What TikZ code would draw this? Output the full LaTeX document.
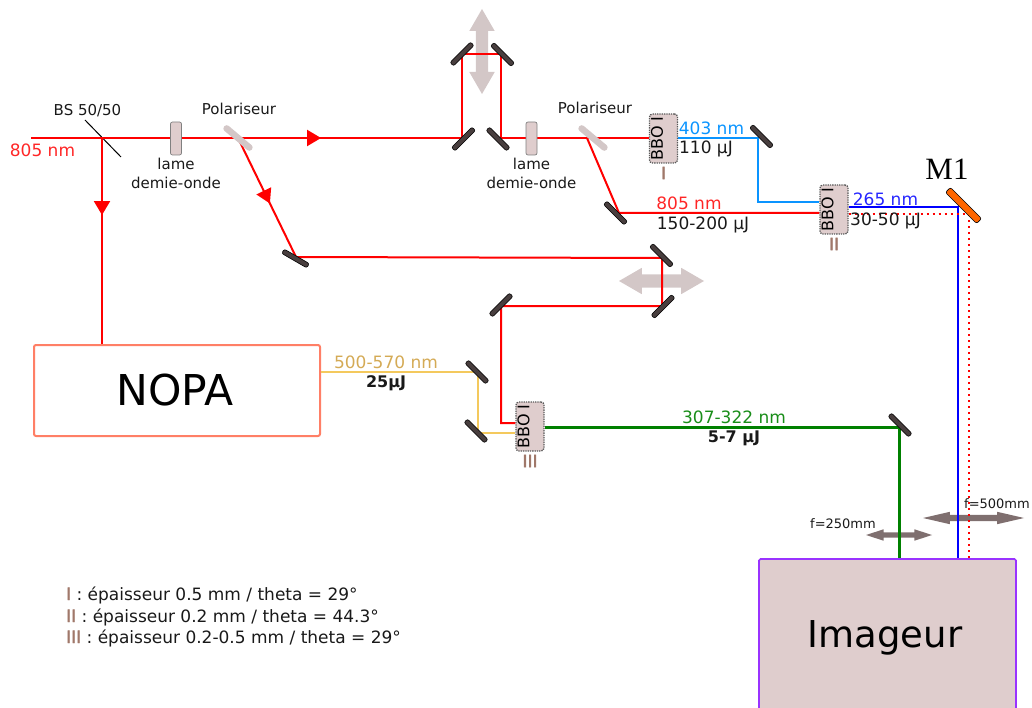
\documentclass[tikz,border=0pt]{standalone}
\usepackage{fontspec}
\usepackage{xcolor}
\setmainfont{DejaVu Sans}
\newfontfamily\titlefont{Liberation Serif}
\newfontfamily\tickfont[FakeBold=2]{DejaVu Sans}
\usetikzlibrary{arrows.meta, positioning, shapes.arrows, decorations.markings}
\definecolor{plategray}{HTML}{DFCDCD}
\definecolor{movegray}{HTML}{D3C7C7}
\definecolor{lensgray}{HTML}{7F6F6F}
\definecolor{mirrordark}{HTML}{483E3E}
\definecolor{tickbrown}{HTML}{A0786A}
\definecolor{nopared}{HTML}{FF7F66}
\definecolor{imgpurple}{HTML}{9933FF}
\definecolor{lightblue}{HTML}{0A94FF}
\definecolor{deepblue}{HTML}{0000FF}
\definecolor{uvgreen}{HTML}{008000}
\definecolor{yellowbeam}{HTML}{F4C95D}
\definecolor{goldtxt}{HTML}{D4AA55}
\definecolor{mirrororange}{HTML}{FF6600}
\newcommand{\bbotxt}{\makebox[28pt][l]{\hspace{1.5pt}\rotatebox{90}{BBO I}}}

\begin{document}
\begin{tikzpicture}[
  x=1pt, y=-1pt,
  txt/.style={inner sep=0pt, font=\fontsize{17}{20}\selectfont, text=black!90},
  small/.style={inner sep=0pt, font=\fontsize{15}{19}\selectfont, align=center, text=black!90},
  tiny/.style={inner sep=0pt, font=\fontsize{13}{15}\selectfont, text=black!90},
  tick/.style={inner sep=0pt, font=\tickfont\fontsize{17}{17}\selectfont, text=tickbrown},
  mirror/.style={draw=black, line width=0.6pt, fill=mirrordark, rounded corners=2pt, minimum width=29pt, minimum height=5pt, inner sep=0pt},
  polar/.style={fill=movegray, rounded corners=3pt, minimum width=36pt, minimum height=6.5pt, inner sep=0pt},
  plate/.style={draw=gray, line width=0.7pt, fill=plategray, rounded corners=2pt, minimum width=11pt, minimum height=33pt, inner sep=0pt},
  bbo/.style={draw=black!65, densely dotted, line width=1.3pt, fill=plategray, rounded corners=3pt, minimum width=28pt, minimum height=49pt, inner sep=0pt, font=\fontsize{16}{16}\selectfont},
  beam/.style={draw=red, line width=2pt},
  midarrow/.style={postaction={decorate}, decoration={markings, mark=at position #1 with {\arrow{Triangle[length=14pt, width=16pt]}}}},
  move/.style={double arrow, fill=movegray, double arrow tip angle=60, minimum height=85pt, inner xsep=0pt},
  lens/.style={double arrow, fill=lensgray, inner xsep=0pt}
]
\useasboundingbox (0,0) rectangle (1032,708);

% Translations et lentilles
\node[move, rotate=90, inner ysep=6pt, double arrow head extend=6.5pt] (transA) at (482,51.5) {};
\node[move, inner ysep=6.5pt, double arrow head extend=6.5pt] (transB) at (661.5,281) {};
\node[lens, inner ysep=2.5pt, minimum height=66pt, double arrow head extend=3pt, double arrow tip angle=36] (lensA) at (899,535) {};
\node[lens, inner ysep=3pt, minimum height=101pt, double arrow head extend=3pt, double arrow tip angle=26] (lensB) at (973.5,518) {};

% Boites
\node[draw=nopared, line width=2pt, rounded corners=2pt, fill=white, minimum width=286pt, minimum height=91pt, inner sep=0pt, font=\fontsize{42.5}{42.5}\selectfont] (nopa) at (177,390.5) {\hspace*{-4pt}NOPA};
\node[draw=imgpurple, line width=1.6pt, rounded corners=1.5pt, fill=plategray, minimum width=257pt, minimum height=151pt, inner sep=0pt, text height=28pt, text depth=3pt, font=\fontsize{37}{37}\selectfont] (imageur) at (887.5,634.5) {\hspace*{-5pt}Imageur};

% Points d'impact
\coordinate (bs) at (102,138);
\coordinate (bsA) at (85,120);
\coordinate (bsB) at (121,157);
\coordinate (start) at (31,138);
\coordinate (hitA) at (462,138);
\coordinate (hitB) at (501,138);
\coordinate (topA) at (462,54);
\coordinate (topB) at (501,54);
\coordinate (polA) at (238,138);
\coordinate (polB) at (587,138);
\coordinate (hitC) at (296,257);
\coordinate (hitD) at (619,213);
\coordinate (hitE) at (662,258);
\coordinate (hitF) at (662,306);
\coordinate (hitG) at (501,306);
\coordinate (hitH) at (757.5,138);
\coordinate (hitI) at (958,207);
\coordinate (hitJ) at (968.5,214);
\coordinate (hitK) at (899,427);
\coordinate (hitL) at (478,372);
\coordinate (hitM) at (478,433);

% Cristaux
\node[bbo] (bboA) at (663.5,138.5) {\bbotxt};
\node[bbo] (bboB) at (834,209.5) {\bbotxt};
\node[bbo] (bboC) at (530,426.5) {\bbotxt};
\node[tick, below=3pt of bboA] (tickA) {I};
\node[tick, below=3pt of bboB] (tickB) {II};
\node[tick, below=3pt of bboC] (tickC) {III};

% Faisceaux
\draw[black, line width=1pt] (bsA) -- (bsB);
\draw[beam, midarrow=0.673] (start) -- (hitA);
\draw[beam] (hitA) -- (topA) -- (topB) -- (hitB) -- (bboA.west |- hitB);
\draw[beam, midarrow=0.374] (bs) -- (102,344);
\draw[beam, midarrow=0.55] (polA) -- (hitC);
\draw[beam] (hitC) -- (hitE) -- (hitF) -- (hitG) -- (hitG |- 0,423) -- (bboC.west |- 0,423);
\draw[beam] (polB) -- (hitD) -- (bboB.west |- hitD);
\draw[lightblue, line width=2pt] (bboA.east |- hitH) -- (hitH) -- (hitH |- 0,202) -- (bboB.west |- 0,202);
\draw[deepblue, line width=2pt] (bboB.east |- hitI) -- (hitI) -- (hitI |- imageur.north);
\draw[red, line width=2pt, dash pattern=on 2pt off 4pt] (bboB.east |- hitJ) -- (hitJ) -- (hitJ |- imageur.north);
\draw[uvgreen, line width=3pt] (bboC.east |- hitK) -- (hitK) -- (hitK |- imageur.north);
\draw[yellowbeam, line width=1.5pt] (nopa.east |- hitL) -- (hitL) -- (hitM) -- (bboC.west |- hitM);

% Optiques
\node[plate] (lameA) at (176,138.5) {};
\node[plate] (lameB) at (531.5,138.5) {};
\node[polar, rotate=-40] (polarA) at (238,138) {};
\node[polar, rotate=-40] (polarB) at (593,138) {};
\node[mirror, rotate=45] (mirA) at (462,54) {};
\node[mirror, rotate=-45] (mirB) at (502.5,54.5) {};
\node[mirror, rotate=45] (mirC) at (463.5,139) {};
\node[mirror, rotate=-45] (mirD) at (498,139) {};
\node[mirror, rotate=-30] (mirE) at (295.5,258.5) {};
\node[mirror, rotate=-45] (mirF) at (615.5,213) {};
\node[mirror, rotate=-45] (mirG) at (661.5,255.5) {};
\node[mirror, rotate=45] (mirH) at (663,306.5) {};
\node[mirror, rotate=45] (mirI) at (501,305) {};
\node[mirror, rotate=-45] (mirJ) at (477,372) {};
\node[mirror, rotate=-45] (mirK) at (476,431) {};
\node[mirror, rotate=-45] (mirL) at (761.5,136.5) {};
\node[mirror, rotate=-45] (mirM) at (900,425) {};
\node[draw=black, line width=0.6pt, fill=mirrororange, rounded corners=2pt, minimum width=44pt, minimum height=7pt, inner sep=0pt, rotate=-45] (mirOne) at (963.5,205.5) {};

% Textes
\node[txt, text=red!85!white] (inLabel) at (42.5,150) {805 nm};
\node[small] (bsLabel) at (87.5,111) {BS 50/50};
\node[small, below=3pt of lameA] (lameAtxt) {lame\\demie-onde};
\node[small, below=3pt of lameB] (lameBtxt) {lame\\demie-onde};
\node[small] (polarAtxt) at (239,109) {Polariseur};
\node[small] (polarBtxt) at (595,108) {Polariseur};
\node[txt, text=lightblue] (uvA) at (711.5,128) {403 nm};
\node[txt] (enA) at (706,149) {110 µJ};
\node[txt, text=red!85!white] (irA) at (689,203) {805 nm};
\node[txt] (enB) at (703,225) {150-200 µJ};
\node[txt, text=deepblue!85!white] (uvB) at (885.5,199) {265 nm};
\node[txt] (enC) at (885.5,221) {30-50 µJ};
\node[inner sep=0pt, font=\titlefont\fontsize{31}{31}\selectfont] (mOne) at (947,169) {M1};
\node[txt, text=goldtxt] (visA) at (386,362) {500-570 nm};
\node[txt, font=\fontsize{16}{20}\selectfont\bfseries] (enD) at (386,383) {25µJ};
\node[txt, text=uvgreen!90!white] (uvC) at (734,417) {307-322 nm};
\node[txt, font=\fontsize{16}{20}\selectfont\bfseries] (enE) at (734,438) {5-7 µJ};
\node[tiny] (fA) at (843,524) {f=250mm};
\node[tiny] (fB) at (997,504) {f=500mm};
\node[txt, anchor=west] (legA) at (66,595) {\textcolor{tickbrown}{\tickfont I} : épaisseur 0.5 mm / theta = 29°};
\node[txt, anchor=west] (legB) at (66,617) {\textcolor{tickbrown}{\tickfont II} : épaisseur 0.2 mm / theta = 44.3°};
\node[txt, anchor=west] (legC) at (66,638) {\textcolor{tickbrown}{\tickfont III} : épaisseur 0.2-0.5 mm / theta = 29°};

\end{tikzpicture}
\end{document}
